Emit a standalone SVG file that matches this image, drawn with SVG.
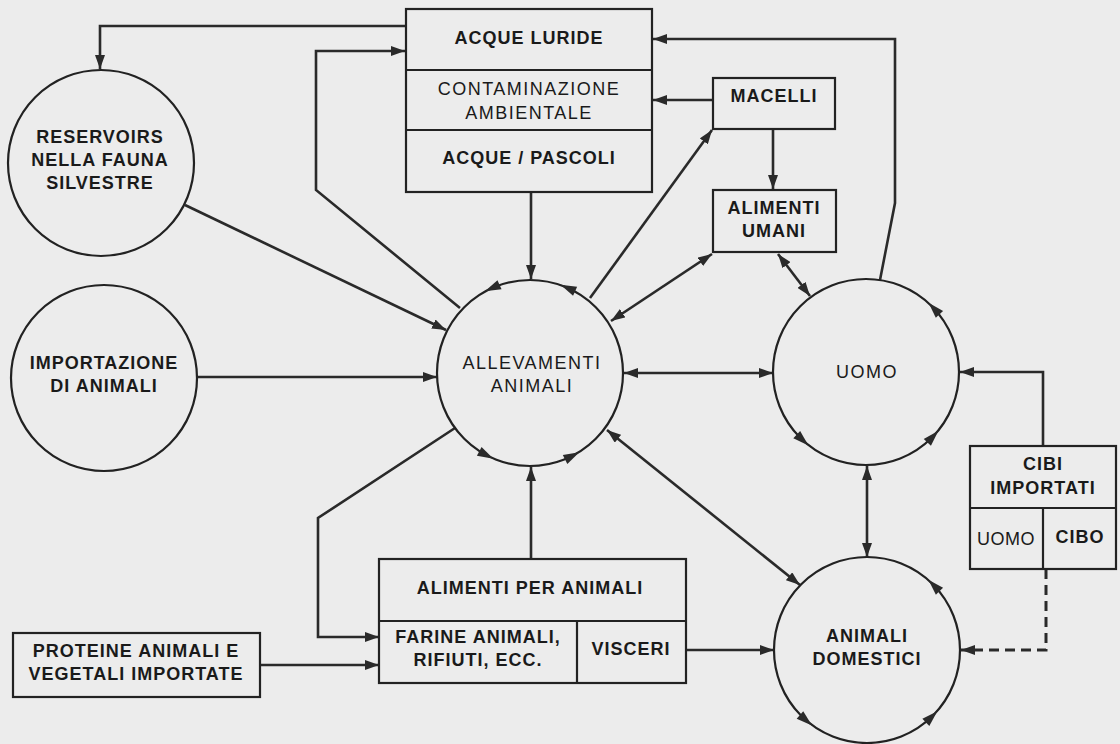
<svg xmlns="http://www.w3.org/2000/svg" width="1120" height="744" viewBox="0 0 1120 744">
<style>
.bg{fill:#ececec}
.box{fill:none;stroke:#222;stroke-width:2.2}
.nd{fill:#ececec;stroke:#222;stroke-width:2.2}
.c{fill:none;stroke:#2a2a2a;stroke-width:2.6;stroke-linejoin:miter}
.dash{stroke-dasharray:10 6;stroke-width:3}
.t{font-family:"Liberation Sans",Arial,Helvetica,sans-serif;font-size:18px;fill:#1a1a1a;text-anchor:middle}
.b{font-weight:bold;letter-spacing:1px}
.r{font-weight:normal;letter-spacing:1.5px}
.ah{fill:#2a2a2a}
</style>
<defs>
<marker id="arr" viewBox="0 0 14 10" refX="14" refY="5" markerWidth="14" markerHeight="10" markerUnits="userSpaceOnUse" orient="auto-start-reverse">
<path d="M0,0 L14,5 L0,10 Z" fill="#2a2a2a"/>
</marker>
<path id="tri" d="M8,0 L-8,-5 L-8,5 Z"/>
</defs>
<rect class="bg" x="0" y="0" width="1120" height="744"/>

<g id="connectors">
<path class="c" d="M406,26 H100 V69" marker-end="url(#arr)"/>
<path class="c" d="M460,308 L316,190 V51 H405" marker-end="url(#arr)"/>
<path class="c" d="M531,192 V279" marker-end="url(#arr)"/>
<path class="c" d="M590,298 L712,130" marker-end="url(#arr)"/>
<path class="c" d="M713,100 H653" marker-end="url(#arr)"/>
<path class="c" d="M773,129 V189" marker-end="url(#arr)"/>
<path class="c" d="M712,254 L611,321" marker-start="url(#arr)" marker-end="url(#arr)"/>
<path class="c" d="M778,254 L810,296" marker-start="url(#arr)" marker-end="url(#arr)"/>
<path class="c" d="M880,280 L895,203 V39 H653" marker-end="url(#arr)"/>
<path class="c" d="M185,205 L446,330" marker-end="url(#arr)"/>
<path class="c" d="M197,377 H437" marker-end="url(#arr)"/>
<path class="c" d="M624,373 H773" marker-start="url(#arr)" marker-end="url(#arr)"/>
<path class="c" d="M1043,446 V372 H960" marker-end="url(#arr)"/>
<path class="c" d="M867,466 V557" marker-start="url(#arr)" marker-end="url(#arr)"/>
<path class="c" d="M607,430 L800,585" marker-start="url(#arr)" marker-end="url(#arr)"/>
<path class="c" d="M455,428 L318,518 V637 H379" marker-end="url(#arr)"/>
<path class="c" d="M531,559 V467" marker-end="url(#arr)"/>
<path class="c" d="M686,650 H774" marker-end="url(#arr)"/>
<path class="c" d="M260,665 H379" marker-end="url(#arr)"/>
<path class="c dash" d="M1046,569 V650 H961" marker-end="url(#arr)"/>
</g>

<g id="acque">
<rect class="box" x="406" y="9" width="246" height="183"/>
<line class="box" x1="406" y1="70" x2="652" y2="70"/>
<line class="box" x1="406" y1="130" x2="652" y2="130"/>
<text class="t b" x="529" y="44">ACQUE LURIDE</text>
<text class="t r" x="529" y="95">CONTAMINAZIONE</text>
<text class="t r" x="529" y="119">AMBIENTALE</text>
<text class="t b" x="529" y="164">ACQUE / PASCOLI</text>
</g>

<g id="macelli">
<rect class="box" x="713" y="78" width="122" height="51"/>
<text class="t b" x="774" y="102">MACELLI</text>
</g>

<g id="alimenti-umani">
<rect class="box" x="713" y="190" width="123" height="62"/>
<text class="t b" x="774" y="214">ALIMENTI</text>
<text class="t b" x="774" y="237">UMANI</text>
</g>

<g id="reservoirs">
<circle class="nd" cx="101" cy="163" r="93"/>
<text class="t b" x="100" y="143">RESERVOIRS</text>
<text class="t b" x="100" y="166">NELLA FAUNA</text>
<text class="t b" x="100" y="189">SILVESTRE</text>
</g>

<g id="importazione">
<circle class="nd" cx="104" cy="378" r="93"/>
<text class="t b" x="104" y="369">IMPORTAZIONE</text>
<text class="t b" x="104" y="392">DI ANIMALI</text>
</g>

<g id="allevamenti">
<circle class="nd" cx="530" cy="373" r="93"/>
<text class="t r" x="532" y="369">ALLEVAMENTI</text>
<text class="t r" x="532" y="392">ANIMALI</text>
<use href="#tri" class="ah" transform="translate(492.2,288) rotate(156)"/>
<use href="#tri" class="ah" transform="translate(567.8,288) rotate(-156)"/>
<use href="#tri" class="ah" transform="translate(486.3,455.1) rotate(28)"/>
<use href="#tri" class="ah" transform="translate(572.2,455.9) rotate(-27)"/>
</g>

<g id="uomo">
<circle class="nd" cx="866" cy="372" r="93"/>
<text class="t r" x="867" y="378">UOMO</text>
<use href="#tri" class="ah" transform="translate(934,308.6) rotate(-133)"/>
<use href="#tri" class="ah" transform="translate(802.6,440) rotate(43)"/>
<use href="#tri" class="ah" transform="translate(932.9,436.6) rotate(-46)"/>
</g>

<g id="animali-domestici">
<circle class="nd" cx="867" cy="650" r="93"/>
<text class="t b" x="867" y="642">ANIMALI</text>
<text class="t b" x="867" y="665">DOMESTICI</text>
<use href="#tri" class="ah" transform="translate(933.9,585.4) rotate(-134)"/>
<use href="#tri" class="ah" transform="translate(806,720.2) rotate(41)"/>
<use href="#tri" class="ah" transform="translate(931.6,716.9) rotate(-44)"/>
</g>

<g id="cibi-importati">
<rect class="box" x="970" y="446" width="146" height="123"/>
<line class="box" x1="970" y1="508" x2="1116" y2="508"/>
<line class="box" x1="1043" y1="508" x2="1043" y2="569"/>
<text class="t b" x="1043" y="470">CIBI</text>
<text class="t b" x="1043" y="494">IMPORTATI</text>
<text class="t r" x="1006" y="545" style="letter-spacing:0.5px">UOMO</text>
<text class="t b" x="1080" y="543">CIBO</text>
</g>

<g id="alimenti-animali">
<rect class="box" x="379" y="559" width="307" height="124"/>
<line class="box" x1="379" y1="621" x2="686" y2="621"/>
<line class="box" x1="577" y1="621" x2="577" y2="683"/>
<text class="t b" x="530" y="594">ALIMENTI PER ANIMALI</text>
<text class="t b" x="478" y="643">FARINE ANIMALI,</text>
<text class="t b" x="478" y="666">RIFIUTI, ECC.</text>
<text class="t b" x="631" y="655">VISCERI</text>
</g>

<g id="proteine">
<rect class="box" x="13" y="633" width="247" height="64"/>
<text class="t b" x="136" y="657">PROTEINE ANIMALI E</text>
<text class="t b" x="136" y="680">VEGETALI IMPORTATE</text>
</g>
</svg>
